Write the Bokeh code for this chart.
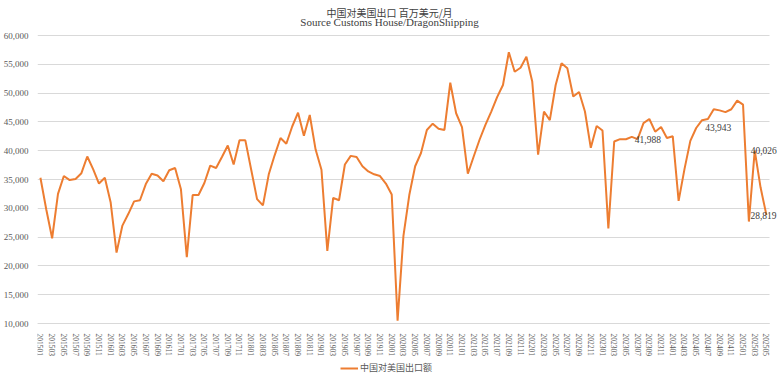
from bokeh.plotting import figure
from bokeh.models import (ColumnDataSource, FixedTicker, NumeralTickFormatter, Legend,
                          LegendItem, Label, Range1d)
from bokeh.core.properties import value
from bokeh.embed import file_html
from bokeh.resources import INLINE

# ---------------- data ----------------
title_main = "中国对美国出口 百万美元/月"
title_sub = "Source Customs House/DragonShipping"
series_name = "中国对美国出口额"

months = [f"{y}{m:02d}" for y in range(2015, 2026) for m in range(1, 13)][:125]

exports = [
    35300, 29800, 24800, 32500, 35600, 34900, 35100, 36100, 39000, 36800, 34300, 35300,   # 2015
    31000, 22300, 27000, 29000, 31200, 31400, 34200, 36000, 35700, 34700, 36600, 37000,   # 2016
    33300, 21500, 32300, 32300, 34400, 37400, 37000, 38900, 40900, 37600, 41800, 41800,   # 2017
    36700, 31600, 30500, 35900, 39200, 42200, 41200, 44200, 46600, 42600, 46200, 40200,   # 2018
    36700, 22600, 31800, 31400, 37600, 39100, 38900, 37300, 36400, 35900, 35600, 34300,   # 2019
    32400, 10500, 25200, 32300, 37300, 39600, 43600, 44700, 43800, 43600, 51800, 46500,   # 2020
    44100, 36000, 39000, 41900, 44500, 46800, 49300, 51400, 57100, 53700, 54400, 56300,   # 2021
    52000, 39300, 46800, 45300, 51400, 55200, 54300, 49400, 50200, 46800, 40500, 44300,   # 2022
    43500, 26500, 41600, 42000, 41988, 42400, 42000, 44800, 45500, 43300, 44100, 42200,   # 2023
    42500, 31300, 36800, 41700, 43943, 45300, 45500, 47200, 47000, 46700, 47200, 48700,   # 2024
    48000, 27700, 40026, 33600, 28819,                                                    # 2025
]

labelled_months = ["202305", "202405", "202503", "202505"]

y_ticks = list(range(10000, 60001, 5000))

# ---------------- layout constants (pixels) ----------------
LINE = "#ED7D31"
GRID = "#D9D9D9"
TXT = "#595959"
SERIF = "Liberation Serif"
CJK = "Noto Sans CJK SC"

AXIS_SPAN_PX = 288      # 10,000 .. 60,000
PAD_TOP_PX = 28         # room above 60,000 for the titles
PAD_BOT_PX = 52         # room below 10,000 for x labels and legend
FRAME_W = 740
PX_PER_CAT = 5.855
FRAME_H = AXIS_SPAN_PX + PAD_TOP_PX + PAD_BOT_PX

y_lo, y_hi = y_ticks[0], y_ticks[-1]
per_px = (y_hi - y_lo) / AXIS_SPAN_PX
y_start = y_lo - PAD_BOT_PX * per_px
y_end = y_hi + PAD_TOP_PX * per_px

n = len(exports)
x_first, x_last = -0.5, n - 0.5
x_end = x_first + FRAME_W / PX_PER_CAT

xs = list(range(n))
src = ColumnDataSource(dict(x=xs, y=exports))

p = figure(frame_width=FRAME_W, frame_height=FRAME_H, output_backend="svg", toolbar_location=None,
           x_range=Range1d(x_first, x_end), y_range=Range1d(y_start, y_end),
           min_border_left=26, min_border_right=0, min_border_top=7, min_border_bottom=0,
           title=None)
p.outline_line_color = None
p.background_fill_color = "white"

# titles (inside the frame, above the 60,000 line)
title_x = x_first + 352 / PX_PER_CAT
p.add_layout(Label(x=title_x, y=y_hi + 23 * per_px, text=title_main, text_align="center",
                   text_baseline="middle", text_font=CJK, text_font_size="10px",
                   text_color="#404040"))
p.add_layout(Label(x=title_x, y=y_hi + 14 * per_px, text=title_sub, text_align="center",
                   text_baseline="middle", text_font=SERIF, text_font_size="11px",
                   text_color="#404040"))

r = p.line(x="x", y="y", source=src, line_color=LINE, line_width=2)

# data labels
offsets = {"202305": 22, "202405": 22, "202503": 9, "202505": -3}
li = [months.index(m) for m in labelled_months]
lsrc = ColumnDataSource(dict(
    x=li, y=[exports[i] for i in li],
    t=[f"{exports[i]:,}" for i in li],
    dx=[offsets[m] for m in labelled_months]))
p.text(x="x", y="y", text="t", x_offset="dx", source=lsrc, text_align="center",
       text_baseline="middle", text_font=value(SERIF), text_font_size="9.5px", text_color="#404040")

# axes
p.yaxis.ticker = FixedTicker(ticks=y_ticks)
p.yaxis.formatter = NumeralTickFormatter(format="0,0")
p.yaxis.axis_line_color = None
p.yaxis.major_tick_line_color = None
p.yaxis.minor_tick_line_color = None
p.yaxis.major_label_text_font = SERIF
p.yaxis.major_label_text_font_size = "9px"
p.yaxis.major_label_text_color = TXT
p.yaxis.major_label_standoff = 3

p.xaxis.fixed_location = y_lo
p.xaxis.bounds = (x_first, x_last)
p.xaxis.ticker = FixedTicker(ticks=list(range(0, len(months), 2)))
p.xaxis.major_label_overrides = {i: months[i] for i in range(0, len(months), 2)}
p.xaxis.major_label_orientation = "vertical"
p.xaxis.axis_line_color = GRID
p.xaxis.major_tick_line_color = None
p.xaxis.minor_tick_line_color = None
p.xaxis.major_label_text_font = SERIF
p.xaxis.major_label_text_font_size = "7.5px"
p.xaxis.major_label_text_color = TXT
p.xaxis.major_label_standoff = 4

p.xgrid.grid_line_color = None
p.ygrid.grid_line_color = GRID
p.ygrid.ticker = FixedTicker(ticks=y_ticks)
p.ygrid.cross_bounds = (x_first, x_last)

legend = Legend(items=[LegendItem(label=series_name, renderers=[r])], orientation="horizontal",
                location=(303, 1), label_text_font=CJK, label_text_font_size="9px",
                label_text_color=TXT, glyph_width=18, glyph_height=10, border_line_color=None,
                background_fill_alpha=0, padding=2, margin=0, label_standoff=2,
                label_height=10)
p.add_layout(legend)

open("out.html", "w").write(file_html(p, INLINE))
